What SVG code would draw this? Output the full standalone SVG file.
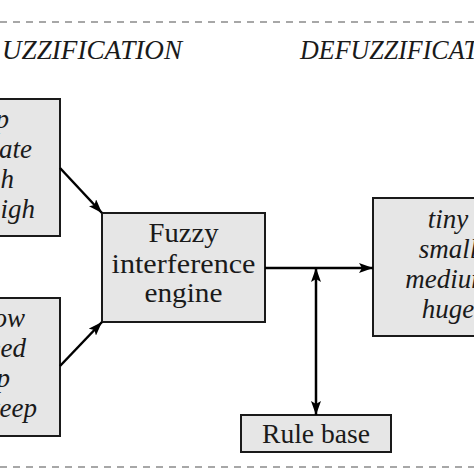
<svg xmlns="http://www.w3.org/2000/svg" width="474" height="474" viewBox="0 0 474 474">
<style>
.box{fill:#e6e6e6;stroke:#1a1a1a;stroke-width:2}
.t{font-family:"Liberation Serif",serif;font-size:27px;fill:#1a1a1a}
.i{font-family:"Liberation Serif",serif;font-style:italic;font-size:27px;fill:#1a1a1a}
.dash{stroke:#8a8a8a;stroke-width:1.5;stroke-dasharray:7 6;fill:none}
.c{stroke:#000;stroke-width:2.5;fill:none}
</style>
<defs>
<marker id="ah" viewBox="0 0 14 10" refX="14" refY="5" markerWidth="14" markerHeight="10" markerUnits="userSpaceOnUse" orient="auto-start-reverse">
<path d="M0,0 L14,5 L0,10 L3,5 Z" fill="#000"/>
</marker>
</defs>
<rect width="474" height="474" fill="#fff"/>
<line class="dash" x1="0" y1="22" x2="474" y2="22"/>
<line class="dash" x1="0" y1="467" x2="474" y2="467"/>
<text class="i" x="2" y="59" textLength="180" lengthAdjust="spacingAndGlyphs">UZZIFICATION</text>
<text class="i" x="300" y="59" textLength="178" lengthAdjust="spacingAndGlyphs">DEFUZZIFICAT</text>
<g id="input1">
<rect class="box" x="-20" y="99" width="80" height="137"/>
<text class="i" x="9" y="128" text-anchor="end">p</text>
<text class="i" x="32" y="158" text-anchor="end">rate</text>
<text class="i" x="14" y="188" text-anchor="end">h</text>
<text class="i" x="35" y="218" text-anchor="end">igh</text>
</g>
<g id="input2">
<rect class="box" x="-20" y="298" width="80" height="138"/>
<text class="i" x="25" y="327" text-anchor="end">ow</text>
<text class="i" x="26" y="357" text-anchor="end">eed</text>
<text class="i" x="10" y="387" text-anchor="end">p</text>
<text class="i" x="37" y="417" text-anchor="end">teep</text>
</g>
<g id="engine">
<rect class="box" x="102" y="213" width="163" height="109"/>
<text class="t" x="183.5" y="242" text-anchor="middle" textLength="70" lengthAdjust="spacingAndGlyphs">Fuzzy</text>
<text class="t" x="183.5" y="273" text-anchor="middle" textLength="144" lengthAdjust="spacingAndGlyphs">interference</text>
<text class="t" x="183.5" y="302" text-anchor="middle" textLength="78" lengthAdjust="spacingAndGlyphs">engine</text>
</g>
<g id="output">
<rect class="box" x="373" y="198" width="140" height="138"/>
<text class="i" x="448" y="228" text-anchor="middle">tiny</text>
<text class="i" x="448" y="258" text-anchor="middle">small</text>
<text class="i" x="448" y="288" text-anchor="middle">medium</text>
<text class="i" x="448" y="318" text-anchor="middle">huge</text>
</g>
<g id="rulebase">
<rect class="box" x="241" y="415" width="150" height="37"/>
<text class="t" x="316" y="443" text-anchor="middle" textLength="108" lengthAdjust="spacingAndGlyphs">Rule base</text>
</g>
<g id="connectors">
<line class="c" x1="60" y1="168" x2="102" y2="213" marker-end="url(#ah)"/>
<line class="c" x1="60" y1="366" x2="102" y2="322" marker-end="url(#ah)"/>
<line class="c" x1="265" y1="268" x2="373" y2="268" marker-end="url(#ah)"/>
<line class="c" x1="316" y1="268" x2="316" y2="415" marker-start="url(#ah)" marker-end="url(#ah)"/>
</g>
</svg>
